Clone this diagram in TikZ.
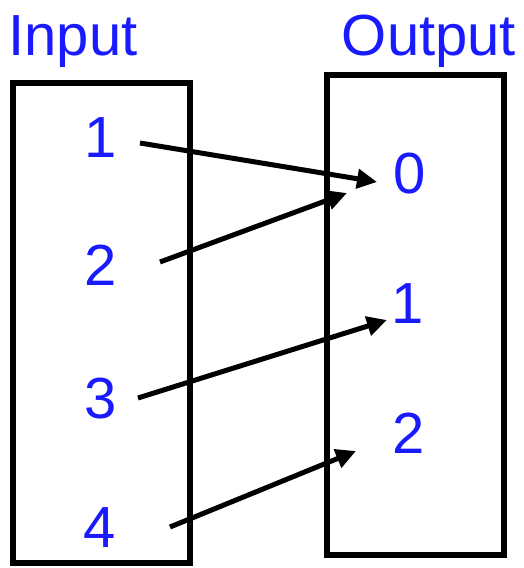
\documentclass[tikz,border=0pt]{standalone}
\usepackage{fontspec}
\setmainfont{Liberation Sans}
\usepackage{tikz}
\usetikzlibrary{arrows.meta}
\definecolor{LabelBlue}{HTML}{1A1AFF}

\begin{document}
\begin{tikzpicture}[x=1pt,y=-1pt,
font=\fontsize{58}{60}\selectfont,
lbl/.style={text=LabelBlue,anchor=base,inner sep=0pt},
box/.style={draw,line width=6pt,minimum width=177pt,minimum height=480pt,inner sep=0pt},
arr/.style={line width=5pt,-{Triangle[length=20pt,width=19pt]}}]
\useasboundingbox (0,0) rectangle (524,568);
% the two boxes
\node[box] (inbox) at (101.5,323) {};
\node[box] (outbox) at (415.5,315) {};
\node[lbl] (intitle) at (73,55) {Input};
\node[lbl] (outtitle) at (429,55) {Output};
% values
\node[lbl] (in1) at (101,157) {1};
\node[lbl] (in2) at (101,285) {2};
\node[lbl] (in3) at (101,418) {3};
\node[lbl] (in4) at (100,547) {4};
\node[lbl] (out0) at (410,193) {0};
\node[lbl] (out1) at (408,323) {1};
\node[lbl] (out2) at (409,453) {2};
% mapping
\draw[arr] ([xshift=39pt,yshift=14pt]in1.base) -- ([xshift=-33pt,yshift=11pt]out0.base);
\draw[arr] ([xshift=59pt,yshift=23pt]in2.base) -- ([xshift=-63pt,yshift=0pt]out0.base);
\draw[arr] ([xshift=37pt,yshift=20pt]in3.base) -- ([xshift=-21pt,yshift=3pt]out1.base);
\draw[arr] ([xshift=70pt,yshift=20pt]in4.base) -- ([xshift=-53pt,yshift=2pt]out2.base);
\end{tikzpicture}
\end{document}
